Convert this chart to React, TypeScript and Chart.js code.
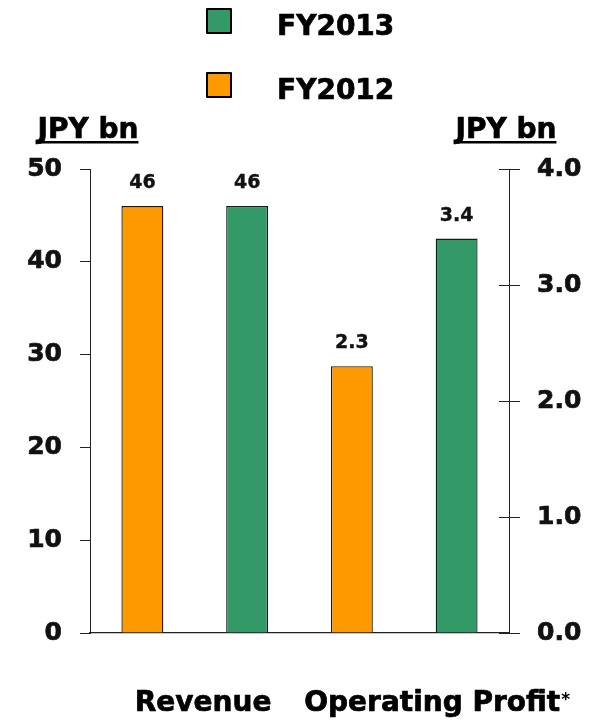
import { useEffect, useRef } from "react";
import { Chart, registerables } from "chart.js";

Chart.register(...registerables);

// ---- data ----
const categories = ["Revenue", "Operating Profit"];
const noteMarks = ["", "*"];
const seriesNames = ["FY2012", "FY2013"];
const fy2012 = [46, 2.3];
const fy2013 = [46, 3.4];
const leftAxisTitle = "JPY bn";
const rightAxisTitle = "JPY bn";
const leftMax = 50;
const leftStep = 10;
const rightMax = 4;
const rightStep = 1;

const ORANGE = "#FF9900";
const GREEN = "#339966";
const AXIS = "#222222";
const FONT = "'DejaVu Sans', Verdana, sans-serif";

const heavyText = (ctx: CanvasRenderingContext2D, t: string, x: number, y: number, sw: number) => {
  ctx.lineWidth = sw;
  ctx.strokeStyle = ctx.fillStyle as string;
  ctx.lineJoin = "round";
  ctx.strokeText(t, x, y);
  ctx.fillText(t, x, y);
};

const overlay = {
  id: "overlay",
  afterDraw(chart: any) {
    const ctx = chart.ctx as CanvasRenderingContext2D;
    const { chartArea, scales } = chart;
    ctx.save();

    // inner part of right axis ticks (cross ticks)
    const y1 = scales.y1;
    ctx.strokeStyle = AXIS;
    ctx.lineWidth = 1;
    y1.ticks.forEach((_t: any, i: number) => {
      const py = Math.round(y1.getPixelForTick(i)) + 0.5;
      ctx.beginPath();
      ctx.moveTo(chartArea.right - 10, py);
      ctx.lineTo(chartArea.right, py);
      ctx.stroke();
    });

    // value labels
    ctx.fillStyle = "#111";
    ctx.font = `bold 19px ${FONT}`;
    ctx.textAlign = "center";
    ctx.textBaseline = "alphabetic";
    chart.data.datasets.forEach((ds: any, di: number) => {
      const meta = chart.getDatasetMeta(di);
      meta.data.forEach((bar: any, i: number) => {
        const v = ds.data[i];
        if (v == null) return;
        const txt = ds.yAxisID === "y1" ? Number(v).toFixed(1) : String(Math.round(v));
        heavyText(ctx, txt, bar.x, bar.y - 18, 0.4);
      });
    });

    // axis titles (underlined)
    ctx.font = `bold 28px ${FONT}`;
    ctx.fillStyle = "#000";
    const titleBase = chartArea.top - 31;
    const drawTitle = (t: string, cx: number) => {
      const w = ctx.measureText(t).width;
      ctx.textAlign = "center";
      heavyText(ctx, t, cx, titleBase, 0.7);
      ctx.fillRect(cx - w / 2, titleBase + 3, w, 2.5);
    };
    drawTitle(leftAxisTitle, chartArea.left - 2);
    drawTitle(rightAxisTitle, chartArea.right - 3);

    // category labels
    const xs = scales.x;
    const offsets = [-60, -100];
    const base = chartArea.bottom + 78;
    chart.data.labels.forEach((lab: string, i: number) => {
      const left = xs.getPixelForValue(i) + offsets[i];
      ctx.font = `bold 28px ${FONT}`;
      ctx.textAlign = "left";
      ctx.fillStyle = "#000";
      heavyText(ctx, lab, left, base, 0.7);
      const w = ctx.measureText(lab).width;
      if (noteMarks[i]) {
        ctx.font = `bold 17px ${FONT}`;
        ctx.fillText(noteMarks[i], left + w + 1, base - 6);
      }
    });

    // legend (vertical, top)
    const items = [
      { name: seriesNames[1], color: GREEN },
      { name: seriesNames[0], color: ORANGE },
    ];
    items.forEach((it, i) => {
      const top = 9 + i * 64;
      ctx.fillStyle = it.color;
      ctx.fillRect(207, top, 24, 24);
      ctx.strokeStyle = "#000";
      ctx.lineWidth = 2;
      ctx.strokeRect(207, top, 24, 24);
      ctx.fillStyle = "#000";
      ctx.font = `bold 28px ${FONT}`;
      ctx.textAlign = "left";
      heavyText(ctx, it.name, 277, top + 26, 0.7);
    });

    ctx.restore();
  },
};

export default function App() {
  const ref = useRef<HTMLCanvasElement | null>(null);

  useEffect(() => {
    if (!ref.current) return;
    const chart = new Chart(ref.current, {
      type: "bar",
      data: {
        labels: categories,
        datasets: [
          {
            label: seriesNames[0],
            data: [fy2012[0], null],
            yAxisID: "y",
            backgroundColor: ORANGE,
          },
          {
            label: seriesNames[1],
            data: [fy2013[0], null],
            yAxisID: "y",
            backgroundColor: GREEN,
          },
          {
            label: seriesNames[0],
            data: [null, fy2012[1]],
            yAxisID: "y1",
            backgroundColor: ORANGE,
          },
          {
            label: seriesNames[1],
            data: [null, fy2013[1]],
            yAxisID: "y1",
            backgroundColor: GREEN,
          },
        ] as any,
      },
      options: {
        animation: false,
        responsive: true,
        maintainAspectRatio: false,
        layout: { padding: { top: 169, left: 0, right: 0, bottom: 0 } },
        datasets: {
          bar: {
            skipNull: true,
            categoryPercentage: 1.0,
            barPercentage: 0.4,
            borderColor: "#1a1a1a",
            borderWidth: 1.3,
          } as any,
        },
        plugins: {
          legend: { display: false },
          tooltip: { enabled: false },
        },
        scales: {
          x: {
            grid: { display: false },
            border: { display: true, color: AXIS, width: 1.3 },
            ticks: { display: false },
            afterFit: (s: any) => {
              s.height = 87;
            },
          },
          y: {
            position: "left",
            min: 0,
            max: leftMax,
            ticks: {
              stepSize: leftStep,
              color: "#111",
              font: { family: FONT, size: 25, weight: "bold" },
              padding: 18,
              textStrokeColor: "#111",
              textStrokeWidth: 0.7,
            },
            grid: { drawOnChartArea: false, drawTicks: true, tickLength: 10, color: AXIS },
            border: { display: true, color: AXIS, width: 1 },
            afterFit: (s: any) => {
              s.width = 90;
            },
          },
          y1: {
            position: "right",
            min: 0,
            max: rightMax,
            ticks: {
              stepSize: rightStep,
              color: "#111",
              font: { family: FONT, size: 25, weight: "bold" },
              padding: 17,
              textStrokeColor: "#111",
              textStrokeWidth: 0.7,
              callback: (v: any) => Number(v).toFixed(1),
            },
            grid: { drawOnChartArea: false, drawTicks: true, tickLength: 11, color: AXIS },
            border: { display: true, color: AXIS, width: 1 },
            afterFit: (s: any) => {
              s.width = 84;
            },
          },
        } as any,
      },
      plugins: [overlay],
    });
    return () => chart.destroy();
  }, []);

  return (
    <div style={{ position: "absolute", left: 0, top: 0, width: 593, height: 720, background: "#fff" }}>
      <canvas ref={ref} />
    </div>
  );
}
